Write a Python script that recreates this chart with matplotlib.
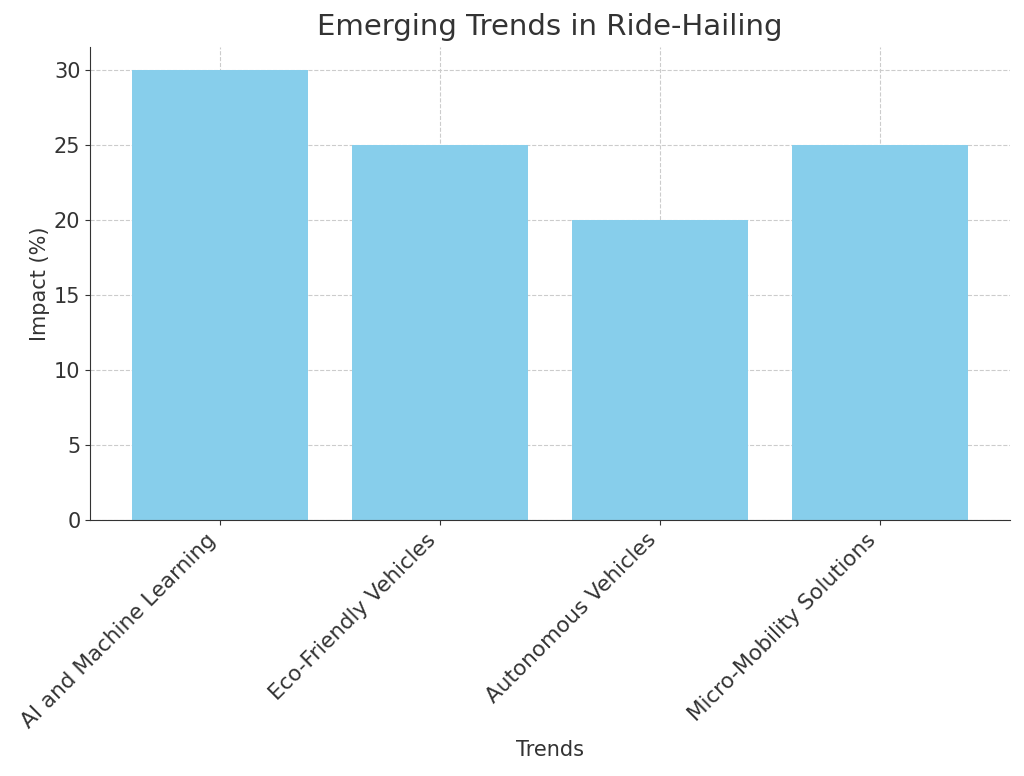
import matplotlib
matplotlib.use('Agg')
import matplotlib.pyplot as plt

# Data
trends = ['AI and Machine Learning', 'Eco-Friendly Vehicles',
          'Autonomous Vehicles', 'Micro-Mobility Solutions']
impact = [30, 25, 20, 25]

plt.rcParams['text.color'] = '#333333'
plt.rcParams['axes.labelcolor'] = '#333333'
plt.rcParams['xtick.color'] = '#333333'
plt.rcParams['ytick.color'] = '#333333'
plt.rcParams['axes.edgecolor'] = '#333333'

fig = plt.figure(figsize=(10.24, 7.76), dpi=100)
ax = fig.add_axes([0.088, 0.330, 0.898, 0.609])

ax.bar(trends, impact, color='skyblue', width=0.8, zorder=2)
ax.grid(True, ls='--', color='#cccccc', lw=0.8, zorder=0)
ax.set_axisbelow(True)

ax.set_title('Emerging Trends in Ride-Hailing', fontsize=21, pad=9)
ax.set_xlabel('Trends', fontsize=15, labelpad=6)
ax.set_ylabel('Impact (%)', fontsize=15, labelpad=3)
ax.tick_params(axis='y', labelsize=15)
ax.tick_params(axis='x', labelsize=15.5)
plt.setp(ax.get_xticklabels(), rotation=45, ha='right')

for s in ('top', 'right'):
    ax.spines[s].set_visible(False)

fig.savefig('out.png', dpi=100)
